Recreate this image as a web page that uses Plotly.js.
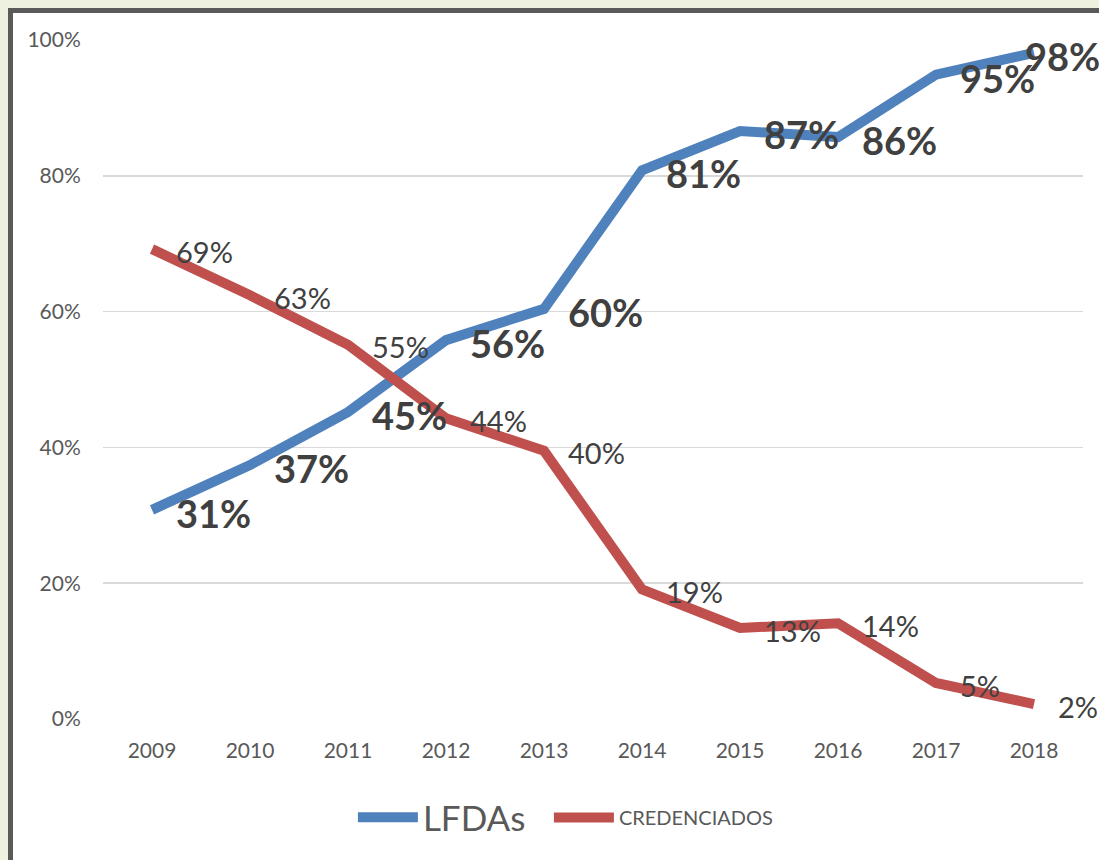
<!DOCTYPE html>
<html><head><meta charset="utf-8">
<script src="https://cdn.plot.ly/plotly-3.0.1.min.js"></script>
<style>
html,body{margin:0;padding:0;width:1099px;height:860px;overflow:hidden;background:#eef0e0;}
#frame{position:absolute;left:8px;top:8px;width:1130px;height:880px;border:5px solid #5a5a5a;background:#fff;overflow:hidden;}
#chart{position:absolute;left:0;top:0;width:1120px;height:870px;}
</style></head>
<body><div id="frame"><div id="chart"></div></div>
<script>
const years = ['2009','2010','2011','2012','2013','2014','2015','2016','2017','2018'];
const lfdas = [30.8, 37.4, 45.2, 55.8, 60.4, 80.8, 86.6, 85.7, 94.9, 98.1];
const lfdasLabels = ['31%','37%','45%','56%','60%','81%','87%','86%','95%','98%'];
const cred = [69.2, 62.4, 55.1, 44.3, 39.5, 19.1, 13.4, 14.1, 5.3, 2.2];
const credLabels = ['69%','63%','55%','44%','40%','19%','13%','14%','5%','2%'];
const yTicks = [0,20,40,60,80,100];
const yTickText = ['0%','20%','40%','60%','80%','100%'];

const FONT = 'Lato, Open Sans, sans-serif';
const traces = [
  {x: years, y: lfdas, type:'scatter', mode:'lines', name:'LFDAs', legend:'legend',
   line:{color:'#4f81bd', width:10}, hoverinfo:'skip'},
  {x: years, y: cred, type:'scatter', mode:'lines', name:'CREDENCIADOS', legend:'legend2',
   line:{color:'#c0504d', width:10}, hoverinfo:'skip'}
];
const annotations = [];
const last = years.length - 1;
for (let i = 0; i < years.length; i++) {
  const isLast = (i === last);
  annotations.push({xref:'x', yref:'y', x: i, y: lfdas[i], text:'<b>'+lfdasLabels[i]+'</b>', showarrow:false,
    xanchor: isLast ? 'right' : 'left', yanchor:'middle', xshift: isLast ? 68 : 22, yshift:-3,
    font:{family:FONT, size:38, color:'#404040'}});
  annotations.push({xref:'x', yref:'y', x: i, y: cred[i], text:credLabels[i], showarrow:false,
    xanchor:'left', yanchor:'middle', xshift:22, yshift:-2, font:{family:FONT, size:29, color:'#404040'}});
}
const legendBase = {orientation:'h', xanchor:'left', y:-0.145, yanchor:'middle',
  bgcolor:'rgba(0,0,0,0)', itemwidth:60};
const layout = {
  width:1120, height:870,
  margin:{l:90, r:50, t:27, b:164},
  paper_bgcolor:'#ffffff', plot_bgcolor:'#ffffff',
  font:{family:FONT, color:'#595959'},
  xaxis:{type:'category', range:[-0.5,9.5], showgrid:false, zeroline:false, showline:false,
    ticks:'outside', ticklen:13, tickcolor:'rgba(0,0,0,0)', tickfont:{size:21, color:'#595959', family:FONT}},
  yaxis:{range:[0,100], tickvals:yTicks, ticktext:yTickText, showgrid:true, gridcolor:'#d9d9d9', gridwidth:1.5,
    zeroline:false, showline:false, ticks:'outside', ticklen:17, tickcolor:'rgba(0,0,0,0)',
    tickfont:{size:21, color:'#595959', family:FONT}},
  showlegend:true,
  legend:Object.assign({}, legendBase, {x:0.255, font:{size:35, color:'#595959', family:FONT}}),
  legend2:Object.assign({}, legendBase, {x:0.455, font:{size:20, color:'#595959', family:FONT}}),
  annotations: annotations
};
Plotly.newPlot('chart', traces, layout, {displayModeBar:false, staticPlot:true});
</script></body></html>
